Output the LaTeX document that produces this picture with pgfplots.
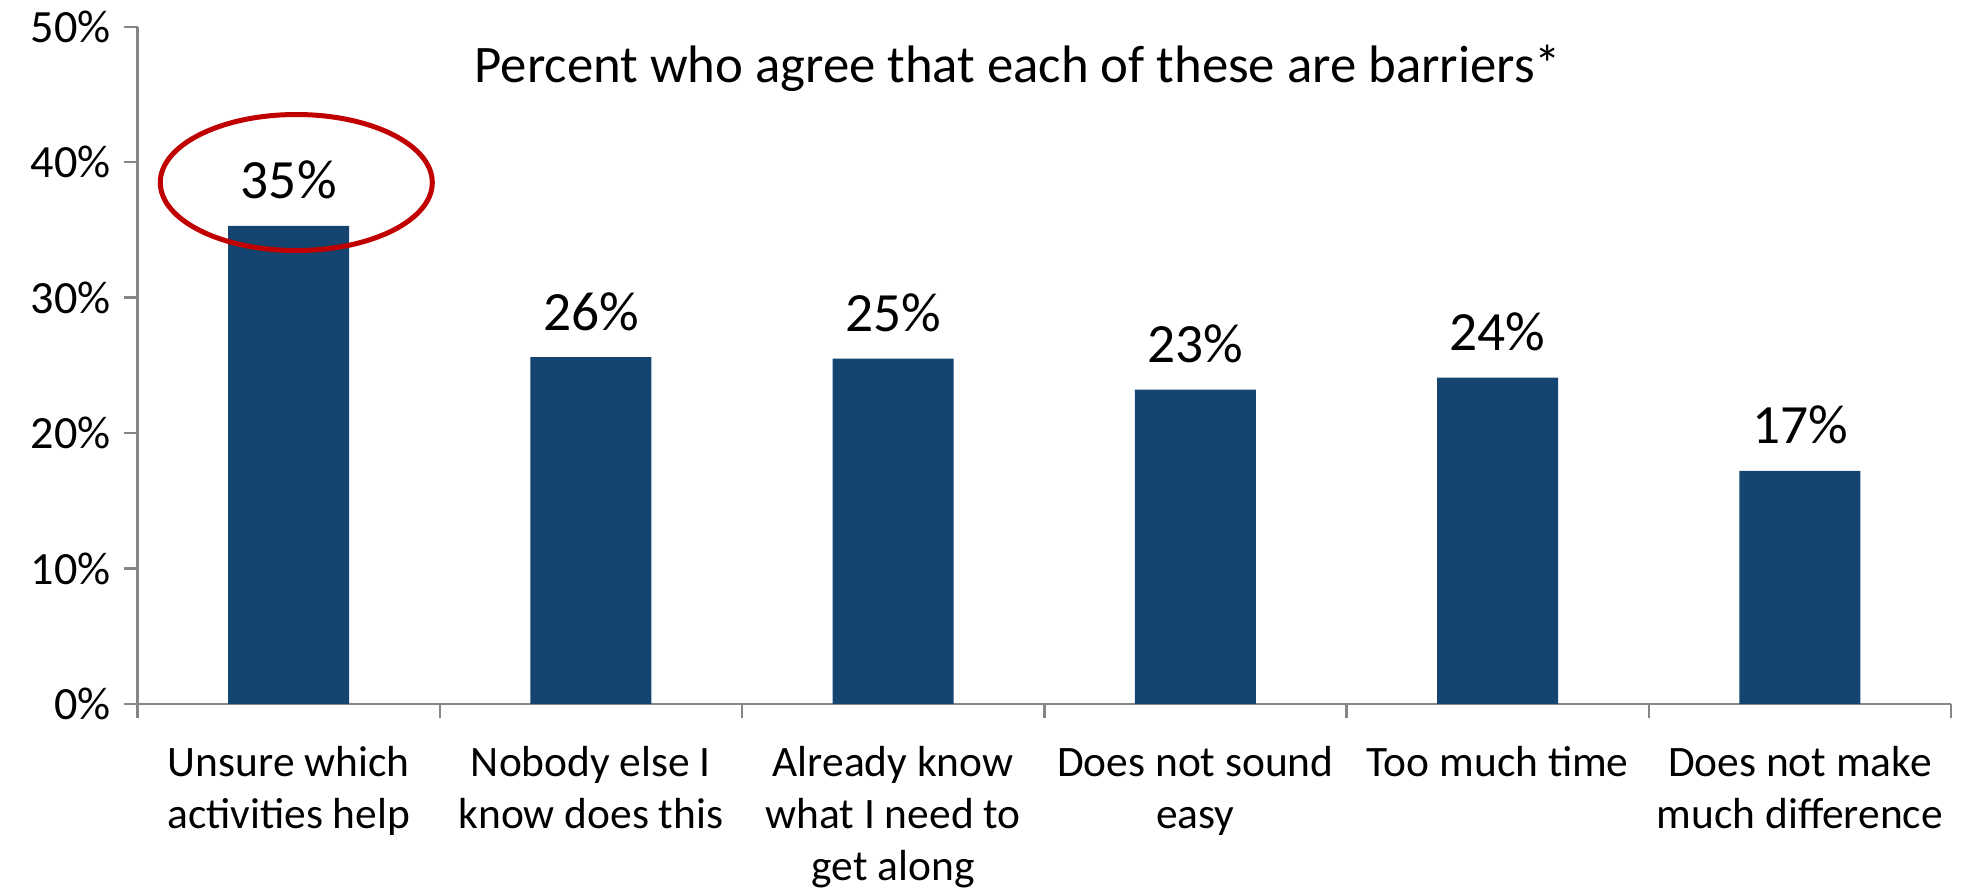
\documentclass[border=0pt]{standalone}
\usepackage{pgfplots}
\pgfplotsset{compat=1.18}
\usepackage{fontspec}
\setmainfont{Carlito}
\usetikzlibrary{calc}
\definecolor{barblue}{RGB}{20,68,112}
\definecolor{axgray}{RGB}{134,134,134}
\definecolor{circred}{RGB}{192,0,0}
\begin{document}
\begin{tikzpicture}
\begin{axis}[
  name=ax,
  scale only axis,
  width=453.3bp, height=169.25bp,
  xmin=-0.5, xmax=5.5, ymin=0, ymax=50,
  axis lines*=left,
  axis line style={draw=axgray, line width=0.6bp, -},
  /pgf/number format/assume math mode=true,
  tick align=outside,
  major tick length=3.5bp,
  minor tick length=3.5bp,
  ytick={0,10,20,30,40,50},
  yticklabels={0\%,10\%,20\%,30\%,40\%,50\%},
  ytick style={draw=axgray, line width=0.6bp},
  yticklabel style={font=\fontsize{11.6}{13.9}\selectfont, anchor=east, inner sep=0pt, xshift=-3bp},
  xtick={0,1,2,3,4,5},
  minor xtick={-0.5,0.5,1.5,2.5,3.5,4.5,5.5},
  major x tick style={draw=none},
  minor x tick style={draw=axgray, line width=0.6bp},
  xticklabels={{Unsure which\\activities help},{Nobody else I\\know does this},{Already know\\what I need to\\get along},{Does not sound\\easy},{Too much time},{Does not make\\much difference}},
  xticklabel style={font=\fontsize{10.9}{13}\selectfont, align=center, anchor=north, inner sep=0pt, yshift=-7bp},
  clip=false,
]
\addplot[ybar, bar width=30.25bp, fill=barblue, draw=none,
  point meta=explicit symbolic,
  nodes near coords={\pgfplotspointmeta\%},
  every node near coord/.append style={font=\fontsize{13.9}{16.6}\selectfont, anchor=base, inner sep=0pt, yshift=6.75bp, text=black}]
coordinates {(0,35.3)[35] (1,25.6)[26] (2,25.5)[25] (3,23.2)[23] (4,24.1)[24] (5,17.2)[17]};
\draw[circred, line width=1.25bp] (axis cs:0.025,38.5) ellipse [x radius=34bp, y radius=17bp];
\node[anchor=base, inner sep=0pt, yshift=-14bp, font=\fontsize{13.24}{15.9}\selectfont] at (rel axis cs:0.4853,1) {Percent who agree that each of these are barriers*};
\end{axis}
\pgfresetboundingbox
\path[use as bounding box] ($(ax.south west)+(-34.4bp,-46.1bp)$) rectangle ($(ax.north east)+(3.75bp,6.7bp)$);
\end{tikzpicture}
\end{document}
